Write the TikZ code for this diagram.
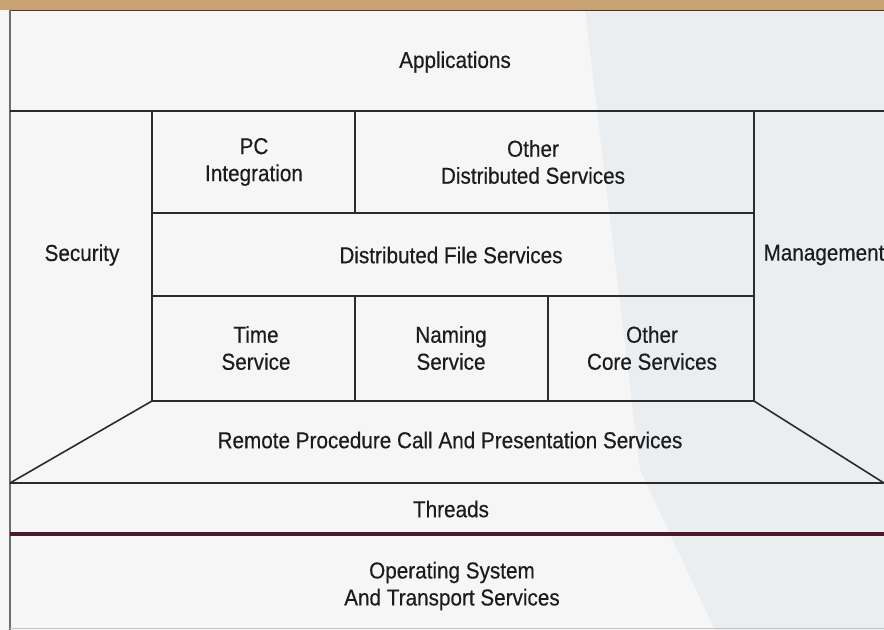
\documentclass[tikz,border=0pt]{standalone}
\usepackage{fontspec}
\setmainfont{Liberation Sans}[FakeStretch=0.9, FakeBold=0.4]
\definecolor{paper}{HTML}{F6F6F6}
\definecolor{paperblue}{HTML}{EBEEF1}
\definecolor{bandtan}{HTML}{C9A274}
\definecolor{bandedge}{HTML}{4A3A2A}
\definecolor{rule}{HTML}{2E2A2A}
\definecolor{border}{HTML}{6E6E6E}
\definecolor{maroon}{HTML}{4C1A24}
\definecolor{ink}{HTML}{1C1C1C}
\tikzset{
  layer/.style={draw=none, text=ink, align=center, inner sep=0pt,
    font=\fontsize{23bp}{27bp}\selectfont},
  thinrule/.style={draw=rule, line width=1.6bp},
  thickrule/.style={draw=maroon, line width=4bp}
}
\begin{document}
\begin{tikzpicture}[x=1bp, y=-1bp]
  % page background and the bluish tint on the right
  \fill[paper] (0,0) rectangle (884,630);
  \fill[paperblue] (585,10) -- (884,10) -- (884,630) -- (715,630) -- (640,470) -- cycle;
  \useasboundingbox (0,0) rectangle (884,630);

  % tan band on top
  \fill[bandtan] (0,0) rectangle (884,10);
  \draw[bandedge, line width=1.6bp] (10,10.5) -- (884,10.5);
  % left page border and faint bottom edge
  \draw[border, line width=1.5bp] (10,10) -- (10,630);
  \draw[border!40, line width=1bp] (10,628) -- (884,628);

  % coordinates of the stack
  \coordinate (tl) at (10,111);
  \coordinate (tr) at (884,111);
  \coordinate (ia) at (152,111);
  \coordinate (ib) at (754,111);
  \coordinate (ic) at (152,401);
  \coordinate (id) at (754,401);
  \coordinate (bl) at (10,483);
  \coordinate (br) at (884,483);

  % frame lines
  \draw[thinrule] (tl) -- (tr);
  \draw[thinrule] (ia) -- (ic) -- (id) -- (ib);
  \draw[thinrule] (355,111) -- (355,213);
  \draw[thinrule] (152,213) -- (754,213);
  \draw[thinrule] (152,296) -- (754,296);
  \draw[thinrule] (355,296) -- (355,401);
  \draw[thinrule] (548,296) -- (548,401);
  \draw[thinrule] (ic) -- (bl);
  \draw[thinrule] (id) -- (br);
  \draw[thinrule] (bl) -- (br);
  \draw[thickrule] (10,534) -- (884,534);

  % labels
  \node[layer] (apps) at (455,62) {Applications};
  \node[layer] (pc) at (254,162) {PC\\Integration};
  \node[layer] (ods) at (533,162) {Other\\Distributed Services};
  \node[layer] (sec) at (82,255) {Security};
  \node[layer] (dfs) at (451,255) {Distributed File Services};
  \node[layer] (mgmt) at (824,255) {Management};
  \node[layer] (time) at (256,348) {Time\\Service};
  \node[layer] (naming) at (451,348) {Naming\\Service};
  \node[layer] (ocs) at (652,348) {Other\\Core Services};
  \node[layer] (rpc) at (450,440) {Remote Procedure Call And Presentation Services};
  \node[layer] (threads) at (451,509) {Threads};
  \node[layer] (os) at (452,586) {Operating System\\And Transport Services};
\end{tikzpicture}
\end{document}
